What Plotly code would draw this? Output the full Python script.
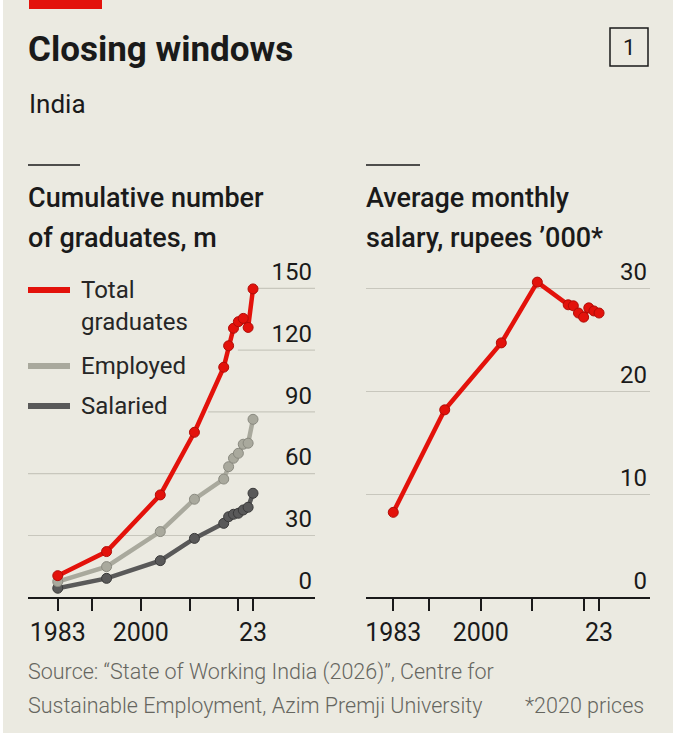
import plotly.graph_objects as go

# survey years (NSS rounds then annual PLFS)
years = [1983, 1993, 2004, 2011, 2017, 2018, 2019, 2020, 2021, 2022, 2023]

# cumulative number of graduates, m
total_grads = [10.5, 22.2, 49.7, 80.1, 111.7, 122.1, 130.6, 133.8, 135.4, 131.0, 149.7]
employed = [7.6, 14.9, 31.9, 47.6, 57.4, 63.4, 67.5, 69.9, 74.3, 74.8, 86.4]
salaried = [4.4, 9.2, 17.8, 28.6, 35.9, 39.1, 40.3, 40.8, 42.4, 43.7, 50.5]

# average monthly salary, rupees '000 (2020 prices)
salary = [8.25, 18.2, 24.7, 30.6, 28.4, 28.3, 27.6, 27.2, 28.1, 27.8, 27.6]

x_tickvals = [1983, 1990, 2000, 2010, 2020, 2023]
x_ticktext = ["1983", "", "2000", "", "", "23"]
left_yticks = [0, 30, 60, 90, 120, 150]
right_yticks = [0, 10, 20, 30]

W, H = 682, 740
BG = "#EBEAE1"
RED = "#E3120B"
LIGHT = "#A9A99D"
DARK = "#595959"
GRID = "#C8C7BD"
INK = "#1a1a1a"
FONT = "Roboto"


def px(x):
    return x / W


def py(y):
    return 1 - y / H


fig = go.Figure()

series = [
    (salaried, DARK, "#3a3a3a"),
    (employed, LIGHT, "#8a8a80"),
    (total_grads, RED, "#b00d08"),
]
for vals, col, edge in series:
    fig.add_trace(go.Scatter(
        x=years, y=vals, mode="lines+markers", showlegend=False,
        line=dict(color=col, width=4.5),
        marker=dict(size=10, color=col, line=dict(color=edge, width=1)),
        xaxis="x", yaxis="y", hoverinfo="skip",
    ))

fig.add_trace(go.Scatter(
    x=years, y=salary, mode="lines+markers", showlegend=False,
    line=dict(color=RED, width=4.5),
    marker=dict(size=10, color=RED, line=dict(color="#b00d08", width=1)),
    xaxis="x2", yaxis="y2", hoverinfo="skip",
))

# zero at y=597.3px, 2.06px per million on the left, 10.3px per thousand rupees on the right
y_bottom, y_top = 597.3, 225.0
left_top = (y_bottom - y_top) / 2.06
right_top = (y_bottom - y_top) / 10.3

xcommon = dict(
    tickvals=x_tickvals, ticktext=x_ticktext, showgrid=False, zeroline=False,
    showline=True, linecolor=INK, linewidth=1.5,
    ticks="outside", ticklen=12, tickwidth=1.5, tickcolor=INK,
    tickfont=dict(family=FONT, size=25, color=INK),
)
ycommon = dict(
    side="right", ticks="", showline=False, zeroline=False,
    ticklabelposition="inside top",
    tickfont=dict(family=FONT, size=24, color=INK),
    domain=[py(y_bottom), py(y_top)],
)

fig.update_layout(
    width=W, height=H,
    paper_bgcolor="white", plot_bgcolor="rgba(0,0,0,0)",
    margin=dict(l=0, r=0, t=0, b=0),
    showlegend=False,
    xaxis=dict(xcommon, domain=[px(28), px(315)], range=[1976.9, 2035.7], anchor="y"),
    yaxis=dict(ycommon, range=[0, left_top], tickvals=left_yticks, showgrid=False, anchor="x"),
    xaxis2=dict(xcommon, domain=[px(366), px(650)], range=[1977.7, 2032.9], anchor="y2"),
    yaxis2=dict(ycommon, range=[0, right_top], tickvals=right_yticks,
                showgrid=True, gridcolor=GRID, gridwidth=1.2, anchor="x2"),
)

# beige card with a thin white border
shapes = [dict(type="rect", xref="paper", yref="paper", x0=px(3), x1=px(673),
               y0=py(733), y1=py(0), fillcolor=BG, line=dict(width=0), layer="below")]

# left gridlines stop where the legend sits
grid_starts = {30: 1976.9, 60: 1976.9, 90: 2013.8, 120: 2019.9, 150: 2023.0}
for v, x0 in grid_starts.items():
    shapes.append(dict(type="line", xref="x", yref="y", x0=x0, x1=2035.7, y0=v, y1=v,
                       line=dict(color=GRID, width=1.2), layer="below"))

# red tag, rules, number box
shapes.append(dict(type="rect", xref="paper", yref="paper", x0=px(29), x1=px(102),
                   y0=py(9), y1=py(0), fillcolor=RED, line=dict(width=0)))
for x0, x1 in [(28, 80), (366, 420)]:
    shapes.append(dict(type="line", xref="paper", yref="paper", x0=px(x0), x1=px(x1),
                       y0=py(165), y1=py(165), line=dict(color=INK, width=1.5)))
shapes.append(dict(type="rect", xref="paper", yref="paper", x0=px(610), x1=px(648),
                   y0=py(66), y1=py(28), line=dict(color=INK, width=1.5)))

# legend swatches
for y, col in [(290, RED), (366, LIGHT), (406, DARK)]:
    shapes.append(dict(type="line", xref="paper", yref="paper", x0=px(28), x1=px(70),
                       y0=py(y), y1=py(y), line=dict(color=col, width=6)))

fig.update_layout(shapes=shapes)


def txt(text, x, y, size, color=INK, weight=400, xanchor="left"):
    fig.add_annotation(text=text, x=px(x), y=py(y), xref="paper", yref="paper",
                       xanchor=xanchor, yanchor="middle", showarrow=False,
                       font=dict(family=FONT, size=size, color=color, weight=weight))


txt("Closing windows", 26, 50, 35, weight=700)
txt("India", 27, 104, 26)
txt("1", 629, 47, 22, xanchor="center")
txt("Cumulative number", 26, 198, 27, weight=500)
txt("of graduates, m", 26, 238, 27, weight=500)
txt("Average monthly", 364, 198, 27, weight=500)
txt("salary, rupees \u2019000*", 364, 238, 27, weight=500)

txt("Total", 79, 290, 24, "#262626")
txt("graduates", 79, 322, 24, "#262626")
txt("Employed", 79, 366, 24, "#262626")
txt("Salaried", 79, 406, 24, "#262626")

SRC = "#66665f"
txt("Source: \u201cState of Working India (2026)\u201d, Centre for", 26, 672, 21.5, SRC, 300)
txt("Sustainable Employment, Azim Premji University", 26, 705, 21.5, SRC, 300)
txt("*2020 prices", 646, 705, 21.5, SRC, 300, xanchor="right")

fig.write_html("out.html", config={"displayModeBar": False},
               post_script="document.body.style.margin='0';")
